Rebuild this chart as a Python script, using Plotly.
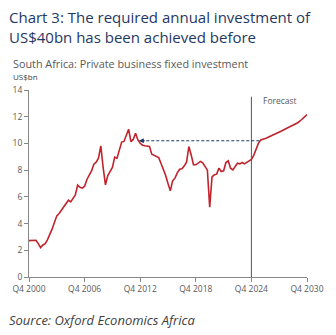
import plotly.graph_objects as go

# Quarterly values, Q4 2000 .. Q4 2030 (US$bn)
values = [
    2.72, 2.73, 2.78, 2.75, 2.50, 2.20, 2.40, 2.50, 2.80, 3.16,
    3.60, 4.10, 4.58, 4.75, 5.00, 5.25, 5.50, 5.75, 5.62, 5.85,
    6.15, 6.88, 6.72, 6.65, 6.80, 7.30, 7.65, 7.95, 8.45, 8.60,
    8.90, 9.82, 8.20, 6.90, 7.60, 7.90, 8.20, 8.97, 8.90, 9.50,
    10.10, 10.15, 10.65, 11.06, 10.14, 10.30, 10.76, 10.26, 10.01, 9.87,
    9.82, 9.80, 9.78, 9.19, 9.10, 9.00, 8.94, 8.50, 8.10, 7.60,
    7.00, 6.45, 7.20, 7.40, 7.80, 8.07, 8.10, 8.30, 8.60, 9.77,
    9.14, 8.40, 8.40, 8.50, 8.65, 8.55, 8.30, 8.00, 5.23, 7.50,
    7.65, 7.70, 8.15, 7.90, 7.95, 8.57, 8.70, 8.15, 8.02, 8.30,
    8.52, 8.47, 8.57, 8.47, 8.60, 8.70, 8.80, 9.10, 9.60, 10.00,
    10.26, 10.30, 10.36, 10.45, 10.52, 10.60, 10.68, 10.76, 10.84, 10.93,
    11.02, 11.10, 11.19, 11.28, 11.37, 11.46, 11.55, 11.68, 11.82, 11.98,
    12.15,
]
start_year = 2000.75
x_vals = [start_year + i / 4 for i in range(len(values))]

tick_vals = [2000.75, 2006.75, 2012.75, 2018.75, 2024.75, 2030.75]
tick_text = ["Q4 2000", "Q4 2006", "Q4 2012", "Q4 2018", "Q4 2024", "Q4 2030"]

forecast_start = 2024.75
target_level = 10.2
target_from = 2025.6
target_to = 2012.6

W, H = 336, 335
L, R, T, B = 29, 25, 90, 58
PW, PH = W - L - R, H - T - B


def px(xp):
    return (xp - L) / PW


def py(yp):
    return (H - B - yp) / PH


fig = go.Figure()
fig.add_trace(go.Scatter(x=x_vals, y=values, mode="lines",
                         line=dict(color="#C0232B", width=1.6),
                         showlegend=False, hoverinfo="skip"))

fig.add_shape(type="line", x0=forecast_start, x1=forecast_start, y0=0, y1=13.5,
              xref="x", yref="y", line=dict(color="#555555", width=1))
fig.add_shape(type="line", x0=target_from, x1=target_to + 0.3, y0=target_level, y1=target_level,
              xref="x", yref="y", line=dict(color="#1F3864", width=1, dash="3px,2px"))
fig.add_annotation(x=target_to, y=target_level, ax=target_to + 0.8, ay=target_level,
                   xref="x", yref="y", axref="x", ayref="y", text="",
                   showarrow=True, arrowhead=2, arrowsize=1, arrowwidth=1,
                   arrowcolor="#1F3864")
fig.add_annotation(x=forecast_start + 1.0, y=13.2, xref="x", yref="y",
                   text="Forecast", showarrow=False, xanchor="left", yanchor="middle",
                   font=dict(size=8.5, color="#595959", family="Open Sans"))

fig.add_annotation(x=px(7), y=py(5), xref="paper", yref="paper",
                   text="Chart 3: The required annual investment of<br>US$40bn has been achieved before",
                   showarrow=False, xanchor="left", yanchor="top", align="left",
                   font=dict(size=15, color="#1F3864", family="Open Sans"))
fig.add_annotation(x=px(11), y=py(54), xref="paper", yref="paper",
                   text="South Africa: Private business fixed investment", showarrow=False,
                   xanchor="left", yanchor="top",
                   font=dict(size=10.8, color="#595959", family="Open Sans"))
fig.add_annotation(x=px(11), y=py(69), xref="paper", yref="paper",
                   text="US$bn", showarrow=False, xanchor="left", yanchor="top",
                   font=dict(size=8, color="#404040", family="Open Sans"))
fig.add_annotation(x=px(7), y=py(309), xref="paper", yref="paper",
                   text="<i>Source: Oxford Economics Africa</i>", showarrow=False,
                   xanchor="left", yanchor="top",
                   font=dict(size=13, color="#404040", family="Open Sans"))

fig.update_layout(
    width=W, height=H,
    margin=dict(l=L, r=R, t=T, b=B),
    paper_bgcolor="white", plot_bgcolor="white",
    font=dict(family="Open Sans", color="#595959", size=8),
    xaxis=dict(range=[2000.75, 2030.75], tickvals=tick_vals, ticktext=tick_text,
               showgrid=False, zeroline=False, showline=True, linecolor="#888888",
               linewidth=1, ticks="outside", ticklen=4, tickcolor="#888888",
               tickfont=dict(size=8.5, color="#595959")),
    yaxis=dict(range=[0, 14], tickvals=[0, 2, 4, 6, 8, 10, 12, 14],
               showgrid=False, zeroline=False, showline=True, linecolor="#888888",
               linewidth=1, ticks="outside", ticklen=4, tickcolor="#888888",
               tickfont=dict(size=8.5, color="#595959")),
)

fig.write_html("out.html")
